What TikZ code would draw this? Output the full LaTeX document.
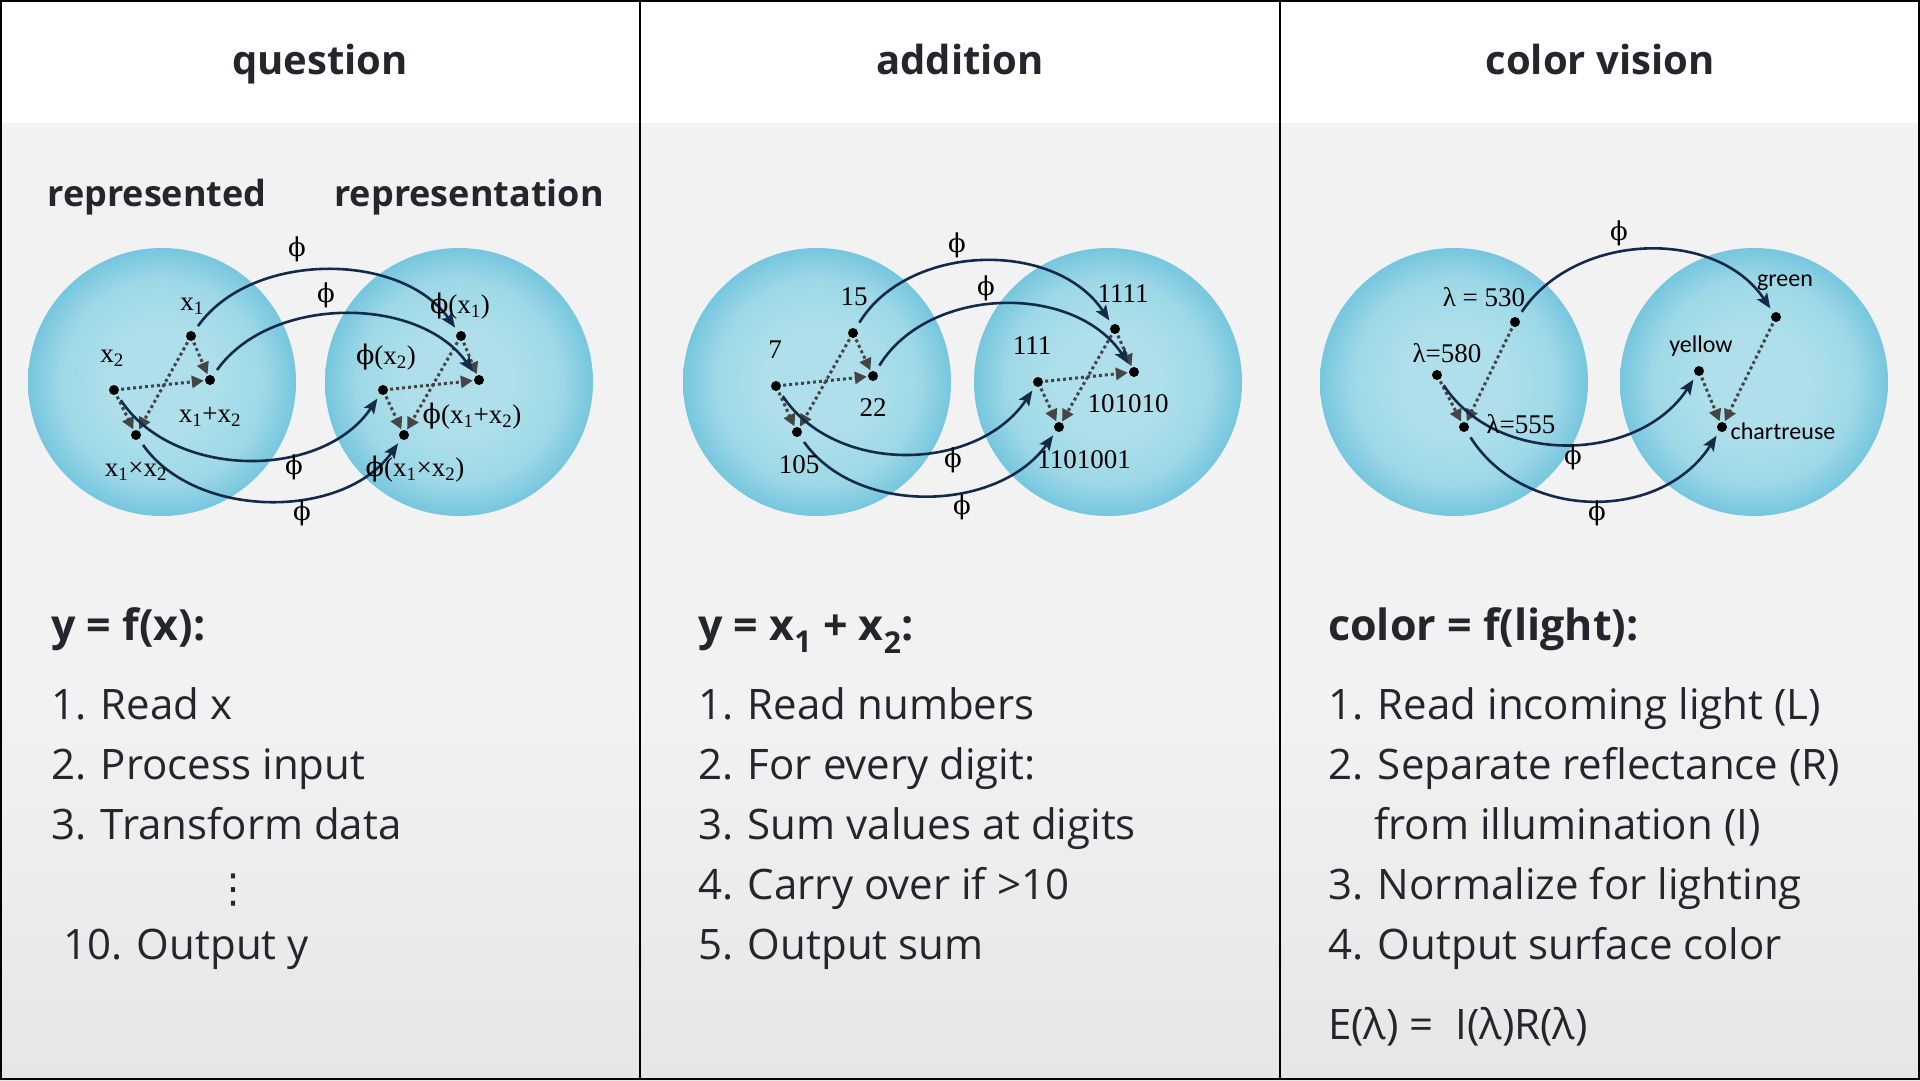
\documentclass[tikz,border=0pt]{standalone}
\usepackage{fontspec}
\setmainfont{Open Sans}
\newfontfamily\labfont{Liberation Serif}
\newfontfamily\phifont{DejaVu Serif}
\newfontfamily\carfont{Carlito}
\newfontfamily\dvsfont{DejaVu Sans}
\usetikzlibrary{arrows.meta}
\definecolor{navy}{HTML}{142A4A}
\definecolor{dgray}{HTML}{454545}
\definecolor{txt}{HTML}{23272D}
\definecolor{bgg}{HTML}{F2F2F2}
\definecolor{bgb}{HTML}{E6E6E6}
\definecolor{cin}{HTML}{AEDFEA}
\definecolor{cout}{HTML}{76C6DF}
\definecolor{cmid}{HTML}{9ED8E7}
\pgfdeclareradialshading{ball}{\pgfpoint{0bp}{0bp}}{color(0bp)=(cin); color(10bp)=(cin); color(19bp)=(cmid); color(25bp)=(cout); color(50bp)=(cout)}
\tikzset{
  ballc/.style={shading=ball},
  dot/.style={circle, fill=black, inner sep=0pt, minimum size=10pt},
  lbl/.style={font=\labfont\fontsize{27}{30}\selectfont, text=black, inner sep=0pt},
  phil/.style={font=\phifont\fontsize{26}{28}\selectfont, text=black, inner sep=0pt},
  clbl/.style={font=\carfont\fontsize{24}{28}\selectfont, text=black, inner sep=0pt},
  map/.style={draw=navy, line width=2.6pt, -{Stealth[length=15pt,width=12pt,inset=3pt]}, shorten <=7pt, shorten >=5pt},
  dotar/.style={draw=dgray, line width=3pt, dash pattern=on 3pt off 3pt, -{Triangle[length=12pt,width=12pt]}, shorten >=1pt, shorten <=2pt},
  ttl/.style={font=\bfseries\fontsize{40}{48}\selectfont, text=txt, inner sep=0pt, anchor=base},
  sub/.style={font=\bfseries\fontsize{36}{42}\selectfont, text=txt, inner sep=0pt, anchor=base},
  head/.style={font=\bfseries\fontsize{43}{50}\selectfont, text=txt, inner sep=0pt, anchor=base west},
  body/.style={font=\fontsize{42}{50}\selectfont, text=txt, inner sep=0pt, anchor=base west},
}
\begin{document}
\begin{tikzpicture}[x=1pt,y=-1pt]
\useasboundingbox (0,0) rectangle (1920,1080);
% backgrounds
\fill[white] (0,0) rectangle (1920,123);
\fill[bgg] (0,123) rectangle (1920,1080);
\shade[top color=bgg, bottom color=bgb] (0,700) rectangle (1920,1080);
% frame
\draw[line width=2.4pt] (1.2,1.2) rectangle (1918.8,1078.8);
\draw[line width=2.2pt] (640,0) -- (640,1080);
\draw[line width=2.2pt] (1280,0) -- (1280,1080);
% titles
\node[ttl] (t1) at (320,74) {question};
\node[ttl] (t2) at (960,74) {addition};
\node[ttl] (t3) at (1600,74) {color vision};
\node[sub] (s1) at (157,206) {represented};
\node[sub] (s2) at (469,206) {representation};

% circles
\shade[ballc] (162,382) circle[radius=134];
\shade[ballc] (459,382) circle[radius=134];
\shade[ballc] (817,382) circle[radius=134];
\shade[ballc] (1108,382) circle[radius=134];
\shade[ballc] (1454,382) circle[radius=134];
\shade[ballc] (1754,382) circle[radius=134];

% ---------- panel 1 ----------
\node[dot] (q1) at (191,336) {};
\node[dot] (q12) at (210,380) {};
\node[dot] (q2) at (114,390) {};
\node[dot] (qm) at (136,435) {};
\node[dot] (r1) at (461,336) {};
\node[dot] (r12) at (479,380) {};
\node[dot] (r2) at (383,390) {};
\node[dot] (rm) at (404,435) {};
\draw[dotar] (q1) -- (q12);
\draw[dotar] (q2) -- (q12);
\draw[dotar] (q2) -- (qm);
\draw[dotar] (q1) -- (qm);
\draw[dotar] (r1) -- (r12);
\draw[dotar] (r2) -- (r12);
\draw[dotar] (r2) -- (rm);
\draw[dotar] (r1) -- (rm);
\draw[map] (q1) .. controls +(60,-85) and +(-60,-85) .. (r1);
\draw[map] (q12) .. controls +(60,-85) and +(-60,-85) .. (r12);
\draw[map] (q2) .. controls +(60,90) and +(-60,90) .. (r2);
\draw[map] (qm) .. controls +(60,85) and +(-60,85) .. (rm);
\node[lbl] (lq1) at (192,306) {x\textsubscript{1}};
\node[lbl] (lq12) at (210,417) {x\textsubscript{1}+x\textsubscript{2}};
\node[lbl] (lq2) at (112,358) {x\textsubscript{2}};
\node[lbl] (lqm) at (136,471) {x\textsubscript{1}×x\textsubscript{2}};
\node[lbl] (lr1) at (460,306) {{\phifont ϕ}(x\textsubscript{1})};
\node[lbl] (lr12) at (472,416) {{\phifont ϕ}(x\textsubscript{1}+x\textsubscript{2})};
\node[lbl] (lr2) at (386,357) {{\phifont ϕ}(x\textsubscript{2})};
\node[lbl] (lrm) at (415,469) {{\phifont ϕ}(x\textsubscript{1}×x\textsubscript{2})};
\node[phil] (p1a) at (297,249) {ϕ};
\node[phil] (p1b) at (326,295) {ϕ};
\node[phil] (p1c) at (294,467) {ϕ};
\node[phil] (p1d) at (302,513) {ϕ};

% ---------- panel 2 ----------
\node[dot] (a15) at (853,333) {};
\node[dot] (a22) at (873,376) {};
\node[dot] (a7) at (776,386) {};
\node[dot] (a105) at (797,432) {};
\node[dot] (b1111) at (1115,329) {};
\node[dot] (b101010) at (1134,372) {};
\node[dot] (b111) at (1038,382) {};
\node[dot] (b1101001) at (1059,427) {};
\draw[dotar] (a15) -- (a22);
\draw[dotar] (a7) -- (a22);
\draw[dotar] (a7) -- (a105);
\draw[dotar] (a15) -- (a105);
\draw[dotar] (b1111) -- (b101010);
\draw[dotar] (b111) -- (b101010);
\draw[dotar] (b111) -- (b1101001);
\draw[dotar] (b1111) -- (b1101001);
\draw[map] (a15) .. controls +(55,-90) and +(-60,-90) .. (b1111);
\draw[map] (a22) .. controls +(55,-90) and +(-60,-90) .. (b101010);
\draw[map] (a7) .. controls +(60,90) and +(-60,90) .. (b111);
\draw[map] (a105) .. controls +(60,85) and +(-60,85) .. (b1101001);
\node[lbl] (l15) at (854,297) {15};
\node[lbl] (l22) at (873,408) {22};
\node[lbl] (l7) at (775,350) {7};
\node[lbl] (l105) at (799,465) {105};
\node[lbl] (l1111) at (1123,294) {1111};
\node[lbl] (l101010) at (1128,404) {101010};
\node[lbl] (l111) at (1032,346) {111};
\node[lbl] (l1101001) at (1084,460) {1101001};
\node[phil] (p2a) at (957,245) {ϕ};
\node[phil] (p2b) at (986,288) {ϕ};
\node[phil] (p2c) at (953,460) {ϕ};
\node[phil] (p2d) at (962,507) {ϕ};

% ---------- panel 3 ----------
\node[dot] (w530) at (1515,322) {};
\node[dot] (w580) at (1437,375) {};
\node[dot] (w555) at (1464,427) {};
\node[dot] (cg) at (1776,317) {};
\node[dot] (cy) at (1699,371) {};
\node[dot] (cc) at (1722,427) {};
\draw[dotar] (w580) -- (w555);
\draw[dotar] (w530) -- (w555);
\draw[dotar] (cy) -- (cc);
\draw[dotar] (cg) -- (cc);
\draw[map] (w530) .. controls +(60,-90) and +(-60,-90) .. (cg);
\draw[map] (w580) .. controls +(60,92) and +(-60,92) .. (cy);
\draw[map] (w555) .. controls +(60,95) and +(-60,95) .. (cc);
\node[lbl] (l530) at (1484,297) {λ = 530};
\node[lbl] (l580) at (1447,353) {λ=580};
\node[lbl] (l555) at (1521,424) {λ=555};
\node[clbl] (lg) at (1785,283) {green};
\node[clbl] (ly) at (1701,346) {yellow};
\node[clbl] (lc) at (1783,431) {chartreuse};
\node[phil] (p3a) at (1619,233) {ϕ};
\node[phil] (p3b) at (1573,457) {ϕ};
\node[phil] (p3c) at (1597,513) {ϕ};

% ---------- text ----------
\node[head] (h1) at (51,640) {y = f(x):};
\node[body] (b11) at (51,719) {1. Read x};
\node[body] (b12) at (51,779) {2. Process input};
\node[body] (b13) at (51,839) {3. Transform data};
\node[font=\dvsfont\fontsize{40}{48}\selectfont, text=txt, inner sep=0pt] (b1d) at (233,890) {⋮};
\node[body] (b14) at (63,959) {10. Output y};

\node[head] (h2) at (698,640) {y = x\textsubscript{1} + x\textsubscript{2}:};
\node[body] (b21) at (698,719) {1. Read numbers};
\node[body] (b22) at (698,779) {2. For every digit:};
\node[body] (b23) at (698,839) {3. Sum values at digits};
\node[body] (b24) at (698,899) {4. Carry over if >10};
\node[body] (b25) at (698,959) {5. Output sum};

\node[head] (h3) at (1328,640) {color = f(light):};
\node[body] (b31) at (1328,719) {1. Read incoming light (L)};
\node[body] (b32) at (1328,779) {2. Separate reflectance (R)};
\node[body] (b33) at (1374,839) {from illumination (I)};
\node[body] (b34) at (1328,899) {3. Normalize for lighting};
\node[body] (b35) at (1328,959) {4. Output surface color};
\node[body] (b36) at (1328,1039) {E(λ) = \ I(λ)R(λ)};
\end{tikzpicture}
\end{document}
